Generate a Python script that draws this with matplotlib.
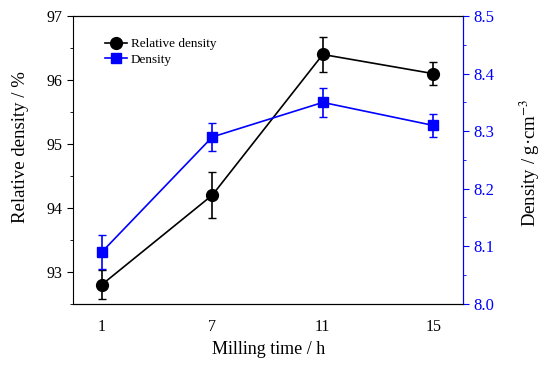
import matplotlib.pyplot as plt
import numpy as np
from matplotlib.lines import Line2D

plt.rcParams['font.family'] = ['Liberation Serif', 'DejaVu Serif']
plt.rcParams['mathtext.fontset'] = 'stix'

milling_time = ['1', '7', '11', '15']
rel_density = [92.8, 94.2, 96.4, 96.1]
rel_err = [0.23, 0.36, 0.28, 0.18]
density = [8.09, 8.29, 8.35, 8.31]
density_err = [0.03, 0.025, 0.025, 0.02]

x = np.arange(len(milling_time))

fig, ax = plt.subplots(figsize=(5.5, 3.66), dpi=100)
fig.subplots_adjust(left=0.133, right=0.842, top=0.956, bottom=0.17)
ax2 = ax.twinx()

ax.errorbar(x, rel_density, yerr=rel_err, color='black', marker='o', ms=8.5,
            lw=1.2, capsize=3, elinewidth=1.2, zorder=3)
ax2.errorbar(x, density, yerr=density_err, color='blue', marker='s', ms=7.5,
             lw=1.2, capsize=3, elinewidth=1.2, zorder=3)

ax.set_xlim(-0.26, 3.27)
ax.set_xticks(x)
ax.set_xticklabels(milling_time)
ax.tick_params(axis='x', length=0, pad=11, labelsize=11.5)

ax.set_ylim(92.5, 97)
ax.set_yticks([93, 94, 95, 96, 97])
ax.set_yticks(np.arange(92.5, 97.01, 0.5), minor=True)
ax.tick_params(axis='y', direction='out', length=4, labelsize=11.5)
ax.tick_params(axis='y', which='minor', direction='out', length=2.5)

ax2.set_ylim(8.0, 8.5)
ax2.set_yticks(np.arange(8.0, 8.51, 0.1))
ax2.set_yticks(np.arange(8.0, 8.51, 0.05), minor=True)
ax2.set_yticklabels(['%.1f' % v for v in np.arange(8.0, 8.51, 0.1)])
ax2.tick_params(axis='y', colors='blue', direction='out', length=4, labelsize=12)
ax2.tick_params(axis='y', which='minor', colors='blue', direction='out', length=2.5)
ax2.spines['right'].set_color('blue')
ax2.spines['left'].set_visible(False)

ax.set_xlabel('Milling time / h', fontsize=13)
ax.set_ylabel('Relative density / %', fontsize=13.5)
ax.yaxis.set_label_coords(-0.113, 0.545)
ax2.set_ylabel('Density / g·cm$^{-3}$', fontsize=13.5)
ax2.yaxis.set_label_coords(1.14, 0.49)

# legend shows plain line+marker, no error bars
handles = [Line2D([], [], color='black', marker='o', ms=8.5, lw=1.2),
           Line2D([], [], color='blue', marker='s', ms=7.5, lw=1.2)]
ax.legend(handles, ['Relative density', 'Density'], loc='upper left',
          bbox_to_anchor=(0.05, 0.965), frameon=False, fontsize=9.5,
          handlelength=1.7, handletextpad=0.3, labelspacing=0.25)

fig.savefig('out.png')
